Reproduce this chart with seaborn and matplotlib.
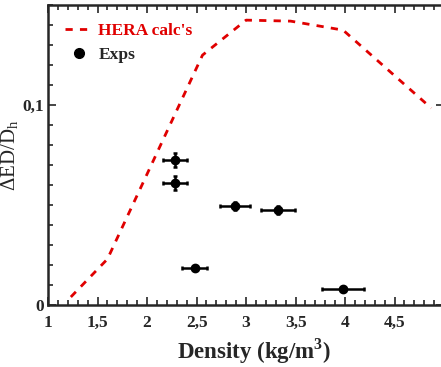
import numpy as np
import pandas as pd
import matplotlib
matplotlib.use("Agg")
import matplotlib.pyplot as plt
from matplotlib.lines import Line2D
from matplotlib.ticker import MultipleLocator, FuncFormatter, FixedLocator
import seaborn as sns

# HERA calculated curve
calc_density = [1.23, 1.6, 2.56, 3.0, 3.45, 3.98, 4.87]
calc_value = [0.004, 0.023, 0.125, 0.1425, 0.142, 0.1375, 0.0985]

# experimental points
exp_density = [2.28, 2.28, 2.48, 2.89, 3.32, 3.98]
exp_value = [0.0725, 0.061, 0.0185, 0.0495, 0.0475, 0.008]
exp_xerr = [0.12, 0.12, 0.13, 0.15, 0.17, 0.21]
exp_yerr = [0.0037, 0.0035, 0.0, 0.0022, 0.0022, 0.0]

RED = "#e00000"
DASH = (0, (2.6, 2.6))

sns.set_style("ticks")
plt.rcParams['font.family'] = ['Liberation Serif', 'DejaVu Serif']
plt.rcParams['font.weight'] = 'bold'
plt.rcParams['mathtext.fontset'] = 'custom'
plt.rcParams['mathtext.rm'] = 'Liberation Serif:bold'
plt.rcParams['mathtext.bf'] = 'Liberation Serif:bold'

fig = plt.figure(figsize=(4.41, 3.67), dpi=100)
ax = fig.add_axes([0.109, 0.169, 0.898, 0.817])

calc = pd.DataFrame({"density": calc_density, "value": calc_value})
sns.lineplot(data=calc, x="density", y="value", ax=ax, color=RED,
             linewidth=2.0, linestyle=DASH, legend=False)

ax.errorbar(exp_density, exp_value, xerr=exp_xerr, yerr=exp_yerr, fmt="o",
            color="black", markersize=6, elinewidth=1.8, capsize=1.5,
            capthick=1.8)

ax.set_xlim(1, 5)
ax.set_ylim(0, 0.15)
ax.xaxis.set_major_locator(MultipleLocator(0.5))
ax.xaxis.set_minor_locator(MultipleLocator(0.1))
ax.yaxis.set_major_locator(FixedLocator([0, 0.1]))
ax.yaxis.set_minor_locator(MultipleLocator(0.01))

def comma(v, pos):
    if v >= 4.99:
        return ""
    return ("%g" % round(v, 3)).replace(".", ",")

ax.xaxis.set_major_formatter(FuncFormatter(comma))
ax.yaxis.set_major_formatter(FuncFormatter(comma))

ax.tick_params(which="both", direction="in", top=True, right=True,
               labelsize=12.5, width=1.2)
ax.tick_params(which="major", length=6)
ax.tick_params(axis="x", which="major", pad=7)
ax.tick_params(axis="y", which="major", pad=3)
ax.tick_params(which="minor", length=3.5)
ax.tick_params(axis="y", which="minor", right=False)
for sp in ax.spines.values():
    sp.set_linewidth(1.8)
    sp.set_visible(True)

ax.set_xlabel("Density (kg/m$^3$)", fontsize=16.5, fontweight="bold")
ax.xaxis.set_label_coords(0.52, -0.105)
ax.set_ylabel(r"$\mathregular{\Delta ED/D_h}$", fontsize=15)
ax.yaxis.set_label_coords(-0.07, 0.5)

handles = [Line2D([], [], color=RED, linewidth=2.0, linestyle=DASH),
           Line2D([], [], color="black", marker="o", markersize=7, linestyle="none")]
leg = ax.legend(handles, ["HERA calc's", "Exps"], loc="upper left",
                frameon=False, fontsize=12.5, handlelength=1.6,
                borderaxespad=0.6, handletextpad=0.3, labelspacing=0.45)
leg.get_texts()[0].set_color(RED)

fig.savefig("out.png", dpi=100)
